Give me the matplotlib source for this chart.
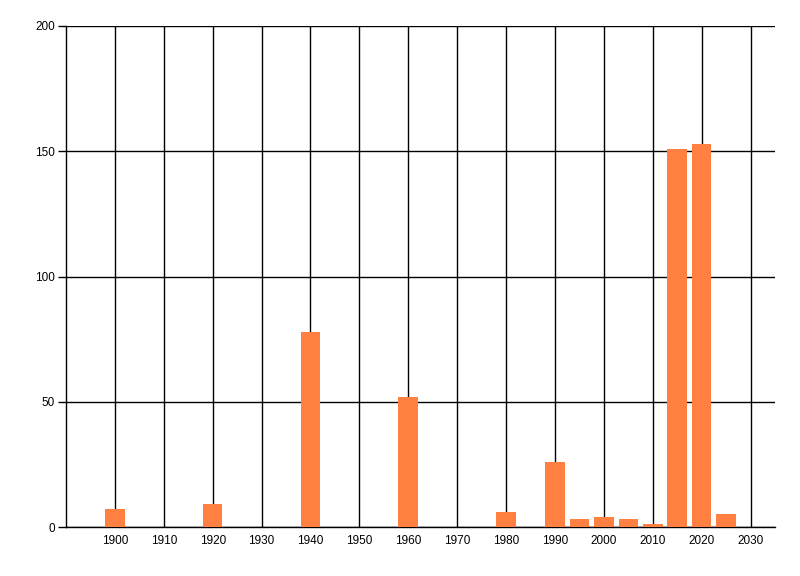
import matplotlib.pyplot as plt

years = [1900, 1920, 1940, 1960, 1980, 1990, 1995, 2000, 2005, 2010, 2015, 2020, 2025]
counts = [7, 9, 78, 52, 6, 26, 3, 4, 3, 1, 151, 153, 5]
xticks = list(range(1900, 2031, 10))
yticks = [0, 50, 100, 150, 200]

plt.rcParams['font.family'] = ['Liberation Sans', 'DejaVu Sans']

fig = plt.figure(figsize=(8, 5.76), dpi=100)
ax = fig.add_axes([66 / 800, 1 - 527 / 576, (775 - 66) / 800, (527 - 26) / 576])

ax.bar(years, counts, width=4, color='#ff8040', zorder=3)

ax.set_xlim(1890, 2035)
ax.set_ylim(0, 200)
ax.set_xticks(xticks)
ax.set_yticks(yticks)
ax.grid(True, color='black', linewidth=1, zorder=1)
ax.set_axisbelow(True)

for side in ['top', 'right']:
    ax.spines[side].set_visible(False)
ax.spines['left'].set_linewidth(1)
ax.spines['bottom'].set_linewidth(1)

ax.tick_params(axis='x', length=0, labelsize=8.5, pad=6)
ax.tick_params(axis='y', length=6, width=1, labelsize=8.5, pad=2)

fig.savefig('out.png', dpi=100)
